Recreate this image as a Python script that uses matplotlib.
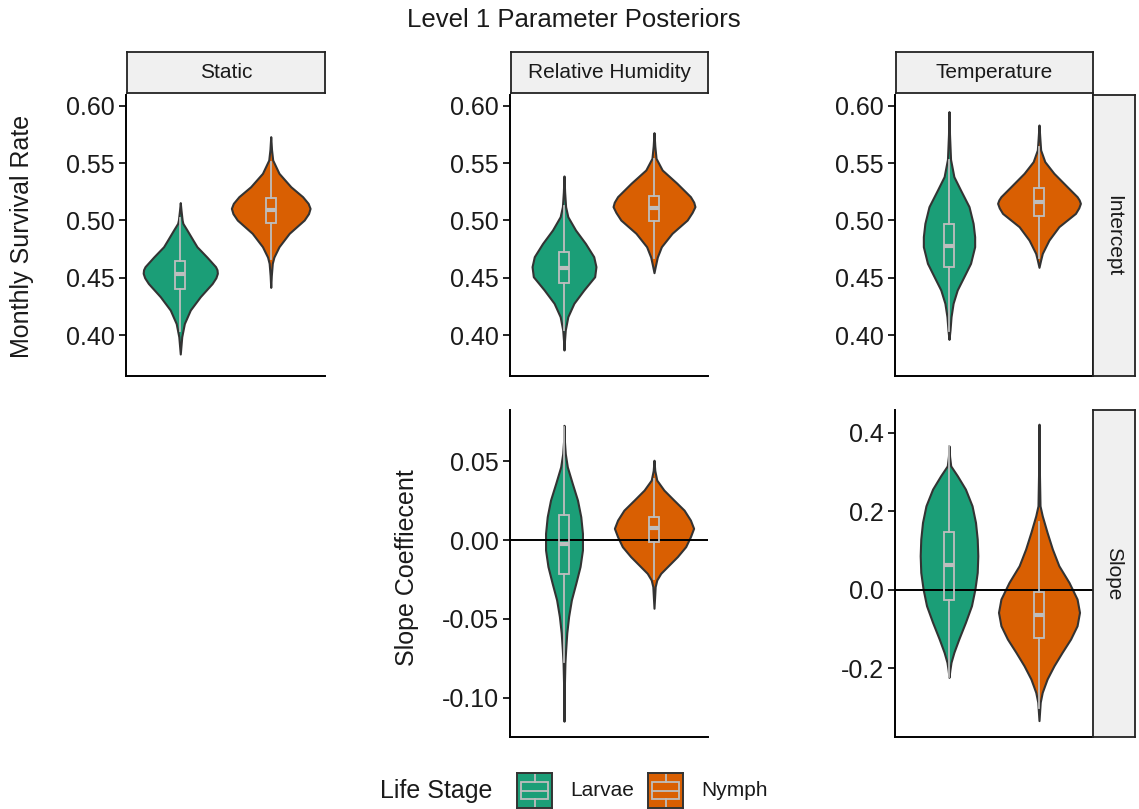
import numpy as np
import matplotlib
matplotlib.use("Agg")
import matplotlib.pyplot as plt
from matplotlib.patches import Rectangle

plt.rcParams["font.family"] = ["Liberation Sans", "DejaVu Sans"]

# ---------------------------------------------------------------- data
stages = ["Larvae", "Nymph"]
stage_colors = ["#1B9E77", "#D95F02"]
columns = ["Static", "Relative Humidity", "Temperature"]
rows = ["Intercept", "Slope"]

# posterior density profiles: (values, relative density)
static_int_larvae_y = [0.5156, 0.509, 0.5004, 0.4975, 0.4917, 0.483, 0.4771, 0.468, 0.4597,
                       0.457, 0.4539, 0.450, 0.445, 0.4335, 0.4218, 0.41, 0.3985, 0.3834]
static_int_larvae_d = [0.0, 0.02, 0.05, 0.07, 0.18, 0.34, 0.45, 0.72, 0.95,
                       0.99, 1.0, 0.96, 0.86, 0.54, 0.27, 0.11, 0.04, 0.0]
static_int_nymph_y = [0.5732, 0.562, 0.5528, 0.5412, 0.5295, 0.5208, 0.515, 0.5106, 0.506, 0.5004,
                      0.4888, 0.4771, 0.468, 0.4626, 0.452, 0.4416]
static_int_nymph_d = [0.0, 0.02, 0.05, 0.21, 0.51, 0.81, 0.95, 1.0, 0.96, 0.85,
                      0.47, 0.21, 0.08, 0.04, 0.015, 0.0]

rh_int_larvae_y = [0.5389, 0.525, 0.5121, 0.5033, 0.4917, 0.48, 0.4684, 0.4597, 0.4509,
                   0.4393, 0.4277, 0.416, 0.4044, 0.395, 0.3869]
rh_int_larvae_d = [0.0, 0.02, 0.05, 0.12, 0.36, 0.67, 0.93, 1.0, 0.96,
                   0.62, 0.31, 0.12, 0.04, 0.015, 0.0]
rh_int_nymph_y = [0.5767, 0.565, 0.5543, 0.5441, 0.5325, 0.5208, 0.516, 0.5121, 0.507, 0.5004,
                  0.4888, 0.4771, 0.468, 0.4597, 0.4544]
rh_int_nymph_d = [0.0, 0.02, 0.05, 0.2, 0.56, 0.89, 0.97, 1.0, 0.93, 0.81,
                  0.44, 0.18, 0.08, 0.03, 0.0]

temp_int_larvae_y = [0.5951, 0.575, 0.5534, 0.5383, 0.5266, 0.5121, 0.4975, 0.4859, 0.4771,
                     0.4626, 0.4509, 0.4393, 0.4277, 0.416, 0.4044, 0.3962]
temp_int_larvae_d = [0.0, 0.02, 0.06, 0.19, 0.45, 0.78, 0.94, 1.0, 1.0,
                     0.84, 0.58, 0.32, 0.16, 0.08, 0.04, 0.0]
temp_int_nymph_y = [0.5834, 0.572, 0.5616, 0.5514, 0.5412, 0.5295, 0.5208, 0.518, 0.515, 0.511,
                    0.5062, 0.4946, 0.4829, 0.4713, 0.4655, 0.4591]
temp_int_nymph_d = [0.0, 0.02, 0.04, 0.14, 0.36, 0.68, 0.92, 0.97, 1.0, 0.96,
                    0.88, 0.48, 0.24, 0.08, 0.04, 0.0]

rh_slope_larvae_y = [0.0726, 0.063, 0.0547, 0.0463, 0.0358, 0.0253, 0.0147, 0.0042, -0.0063,
                     -0.0168, -0.0274, -0.0379, -0.0484, -0.0589, -0.0695, -0.0779, -0.095, -0.1147]
rh_slope_larvae_d = [0.0, 0.02, 0.07, 0.18, 0.45, 0.73, 0.91, 1.0, 1.0,
                     0.87, 0.64, 0.4, 0.25, 0.15, 0.09, 0.05, 0.015, 0.0]
rh_slope_nymph_y = [0.0505, 0.044, 0.0379, 0.0316, 0.0253, 0.0189, 0.0126, 0.0074, 0.0021,
                    -0.0042, -0.0105, -0.0168, -0.0211, -0.0253, -0.0295, -0.0432]
rh_slope_nymph_d = [0.0, 0.02, 0.07, 0.25, 0.5, 0.76, 0.92, 1.0, 0.92,
                    0.8, 0.59, 0.34, 0.17, 0.07, 0.03, 0.0]

temp_slope_larvae_y = [0.367, 0.34, 0.316, 0.2907, 0.2567, 0.2142, 0.1717, 0.1292, 0.0867,
                       0.0442, 0.0017, -0.0408, -0.0833, -0.1258, -0.1598, -0.1853, -0.205, -0.2235]
temp_slope_larvae_d = [0.0, 0.02, 0.06, 0.29, 0.57, 0.8, 0.92, 0.98, 1.0,
                       0.98, 0.9, 0.78, 0.57, 0.34, 0.17, 0.07, 0.03, 0.0]
temp_slope_nymph_y = [0.4224, 0.30, 0.2142, 0.1887, 0.1462, 0.1037, 0.0612, 0.0187, -0.0238,
                      -0.0578, -0.0918, -0.1258, -0.1598, -0.1938, -0.2278, -0.2618, -0.2872, -0.334]
temp_slope_nymph_d = [0.0, 0.01, 0.025, 0.08, 0.2, 0.33, 0.49, 0.74, 0.94,
                      1.0, 0.94, 0.78, 0.57, 0.37, 0.2, 0.08, 0.03, 0.0]

# quartiles (q1, median, q3) per stage
static_int_quart = [(0.4402, 0.4530, 0.4649), (0.4981, 0.5092, 0.5194)]
rh_int_quart = [(0.4451, 0.4582, 0.4722), (0.4996, 0.5112, 0.5214)]
temp_int_quart = [(0.4597, 0.4780, 0.4969), (0.5039, 0.5159, 0.5281)]
rh_slope_quart = [(-0.0215, -0.0025, 0.0158), (-0.0011, 0.0074, 0.0147)]
temp_slope_quart = [(-0.0263, 0.0637, 0.1462), (-0.1241, -0.0646, -0.0051)]

# ---------------------------------------------------------------- layout
W, H = 1139, 809
fig = plt.figure(figsize=(W / 100, H / 100), dpi=100)

OUTLINE = "#333333"
BOXGREY = "#BEBEBE"
TICK_FS = 18
STRIP_FS = 15


def add_px_axes(l, t, r, b, **kw):
    return fig.add_axes([l / W, 1 - b / H, (r - l) / W, (b - t) / H], **kw)


def strip(l, t, r, b, text, rotation=0):
    sax = add_px_axes(l, t, r, b)
    sax.set_xticks([])
    sax.set_yticks([])
    sax.set_facecolor("#F0F0F0")
    for s in sax.spines.values():
        s.set_color("#222222")
        s.set_linewidth(1.3)
    sax.text(0.5, 0.5, text, transform=sax.transAxes, ha="center", va="center",
             fontsize=STRIP_FS, color="#1A1A1A", rotation=rotation)
    return sax


def violin_panel(ax, profiles, widths, quarts, ylim, ticks, labels, zero_line=False):
    vpstats = []
    for ys, ds in profiles:
        ys = np.asarray(ys)
        vpstats.append(dict(coords=ys, vals=np.asarray(ds), mean=ys.mean(),
                            median=np.median(ys), min=ys.min(), max=ys.max()))
    parts = ax.violin(vpstats, positions=[1, 2], widths=widths, showmeans=False,
                      showextrema=False, showmedians=False)
    for body, col in zip(parts["bodies"], stage_colors):
        body.set_facecolor(col)
        body.set_edgecolor(OUTLINE)
        body.set_linewidth(1.5)
        body.set_alpha(1)
        body.set_zorder(2)

    if zero_line:
        ax.axhline(0, color="black", lw=1.4, zorder=3)

    bstats = []
    for (ys, _), (q1, med, q3) in zip(profiles, quarts):
        iqr = q3 - q1
        bstats.append(dict(q1=q1, med=med, q3=q3,
                           whislo=max(min(ys), q1 - 1.5 * iqr),
                           whishi=min(max(ys), q3 + 1.5 * iqr)))
    ax.bxp(bstats, positions=[1, 2], widths=0.11, showfliers=False, showcaps=False,
           patch_artist=True,
           boxprops=dict(facecolor="none", edgecolor=BOXGREY, linewidth=1.3),
           whiskerprops=dict(color=BOXGREY, linewidth=1.3),
           medianprops=dict(color=BOXGREY, linewidth=3.0, solid_capstyle="butt"),
           zorder=4)

    ax.set_xlim(0.4, 2.6)
    ax.set_ylim(*ylim)
    ax.set_yticks(ticks)
    ax.set_yticklabels(labels)
    ax.set_xticks([])
    ax.spines["top"].set_visible(False)
    ax.spines["right"].set_visible(False)
    for s in ("left", "bottom"):
        ax.spines[s].set_linewidth(1.4)
        ax.spines[s].set_color("black")
    ax.tick_params(axis="y", length=5, width=1.2, labelsize=TICK_FS, pad=3,
                   colors="black", labelcolor="#1A1A1A")
    ax.patch.set_alpha(0)


int_ticks = [0.40, 0.45, 0.50, 0.55, 0.60]
int_labels = ["0.40", "0.45", "0.50", "0.55", "0.60"]
int_ylim = (0.3642, 0.6096)

col_px = [(126, 325), (510, 708), (895, 1093)]
top_row = (95, 376)
bot_row = (410, 737)

# intercept row
ax_a = add_px_axes(col_px[0][0], top_row[0], col_px[0][1], top_row[1])
violin_panel(ax_a, [(static_int_larvae_y, static_int_larvae_d), (static_int_nymph_y, static_int_nymph_d)],
             [0.82, 0.87], static_int_quart, int_ylim, int_ticks, int_labels)
ax_b = add_px_axes(col_px[1][0], top_row[0], col_px[1][1], top_row[1])
violin_panel(ax_b, [(rh_int_larvae_y, rh_int_larvae_d), (rh_int_nymph_y, rh_int_nymph_d)],
             [0.71, 0.91], rh_int_quart, int_ylim, int_ticks, int_labels)
ax_c = add_px_axes(col_px[2][0], top_row[0], col_px[2][1], top_row[1])
violin_panel(ax_c, [(temp_int_larvae_y, temp_int_larvae_d), (temp_int_nymph_y, temp_int_nymph_d)],
             [0.57, 0.92], temp_int_quart, int_ylim, int_ticks, int_labels)
ax_c.spines["right"].set_visible(True)
ax_c.spines["right"].set_linewidth(1.4)

# slope row
ax_e = add_px_axes(col_px[1][0], bot_row[0], col_px[1][1], bot_row[1])
violin_panel(ax_e, [(rh_slope_larvae_y, rh_slope_larvae_d), (rh_slope_nymph_y, rh_slope_nymph_d)],
             [0.41, 0.88], rh_slope_quart, (-0.1247, 0.0823),
             [-0.10, -0.05, 0.00, 0.05], ["-0.10", "-0.05", "0.00", "0.05"], zero_line=True)
ax_f = add_px_axes(col_px[2][0], bot_row[0], col_px[2][1], bot_row[1])
violin_panel(ax_f, [(temp_slope_larvae_y, temp_slope_larvae_d), (temp_slope_nymph_y, temp_slope_nymph_d)],
             [0.64, 0.90], temp_slope_quart, (-0.3758, 0.4586),
             [-0.2, 0.0, 0.2, 0.4], ["-0.2", "0.0", "0.2", "0.4"], zero_line=True)

# facet strips
for (l, r), name in zip(col_px, columns):
    strip(l + 1, 52, r, 93, name)
strip(1093, top_row[0], 1135, top_row[1], rows[0], rotation=270)
strip(1093, bot_row[0], 1135, bot_row[1], rows[1], rotation=270)

# titles and axis labels
fig.text(574 / W, 1 - 20 / H, "Level 1 Parameter Posteriors", ha="center", va="center",
         fontsize=18.5, color="#1A1A1A")
fig.text(22 / W, 1 - 236 / H, "Monthly Survival Rate", rotation=90, ha="center", va="center",
         fontsize=TICK_FS, color="#1A1A1A")
fig.text(407 / W, 1 - 568 / H, "Slope Coeffiecent", rotation=90, ha="center", va="center",
         fontsize=TICK_FS, color="#1A1A1A")

# legend
fig.text(380 / W, 1 - 791 / H, "Life Stage", ha="left", va="center", fontsize=TICK_FS,
         color="#1A1A1A")
key_px = [(517, 552), (648, 683)]
for (kl, kr), col, lab in zip(key_px, stage_colors, stages):
    kax = add_px_axes(kl, 773, kr, 808)
    kax.set_xlim(0, 1)
    kax.set_ylim(0, 1)
    kax.set_xticks([])
    kax.set_yticks([])
    kax.set_facecolor(col)
    for s in kax.spines.values():
        s.set_color(OUTLINE)
        s.set_linewidth(1.4)
    kax.add_patch(Rectangle((0.12, 0.27), 0.76, 0.46, facecolor="none", edgecolor=BOXGREY, lw=1.3))
    kax.plot([0.12, 0.88], [0.5, 0.5], color=BOXGREY, lw=1.3)
    kax.plot([0.5, 0.5], [0.0, 0.27], color=BOXGREY, lw=1.3)
    kax.plot([0.5, 0.5], [0.73, 1.0], color=BOXGREY, lw=1.3)
    fig.text((kr + 18) / W, 1 - 791 / H, lab, ha="left", va="center", fontsize=STRIP_FS,
             color="#1A1A1A")

fig.savefig("out.png", dpi=100)
